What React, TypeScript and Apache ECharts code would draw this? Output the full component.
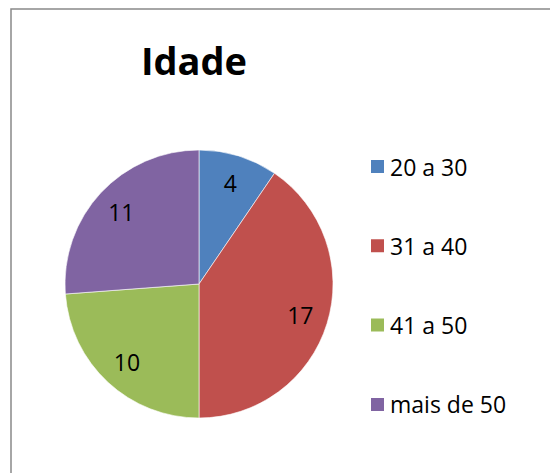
import React, { useEffect, useRef } from "react";
import * as echarts from "echarts";

const titleText = "Idade";
const categories = ["20 a 30", "31 a 40", "41 a 50", "mais de 50"];
const values = [4, 17, 10, 11];
const colors = ["#4F81BD", "#C0504D", "#9BBB59", "#8064A2"];

export default function App() {
  const ref = useRef<HTMLDivElement>(null);
  useEffect(() => {
    if (!ref.current) return;
    const chart = echarts.init(ref.current, undefined, { renderer: "svg" });
    const data = categories.map((name, i) => ({ name, value: values[i] }));
    const font = "'Open Sans', 'Noto Sans', sans-serif";
    chart.setOption({
      animation: false,
      color: colors,
      title: {
        text: titleText,
        left: 194,
        top: 41,
        padding: 0,
        textAlign: "center",
        textStyle: {
          fontFamily: font,
          fontWeight: "bold",
          fontSize: 38,
          lineHeight: 38,
          color: "#000",
        },
      },
      legend: {
        orient: "vertical",
        left: 369,
        top: 155,
        padding: 0,
        itemWidth: 15,
        itemHeight: 15,
        itemGap: 56.3,
        icon: "rect",
        selectedMode: false,
        data: categories,
        textStyle: {
          fontFamily: font,
          fontSize: 23,
          lineHeight: 23,
          color: "#000",
        },
      },
      graphic: [
        {
          type: "rect",
          shape: { x: 11, y: 9, width: 600, height: 600 },
          style: { fill: "none", stroke: "#898989", lineWidth: 1.5 },
          silent: true,
        },
      ],
      series: [
        {
          type: "pie",
          center: [199, 284],
          radius: [0, 134],
          startAngle: 90,
          clockwise: true,
          silent: true,
          label: { show: false },
          labelLine: { show: false },
          itemStyle: { borderColor: "#ffffff", borderWidth: 0.6 },
          emphasis: { disabled: true },
          data,
        },
        {
          type: "pie",
          center: [199, 284],
          radius: [72, 134],
          startAngle: 90,
          clockwise: true,
          silent: true,
          itemStyle: { color: "rgba(0,0,0,0)" },
          label: {
            show: true,
            position: "inside",
            formatter: "{c}",
            fontFamily: font,
            fontSize: 23,
            color: "#000",
          },
          labelLine: { show: false },
          emphasis: { disabled: true },
          data,
        },
      ],
    });
    return () => chart.dispose();
  }, []);
  return (
    <div
      ref={ref}
      style={{ position: "absolute", left: 0, top: 0, width: 550, height: 473, background: "#fff" }}
    />
  );
}
